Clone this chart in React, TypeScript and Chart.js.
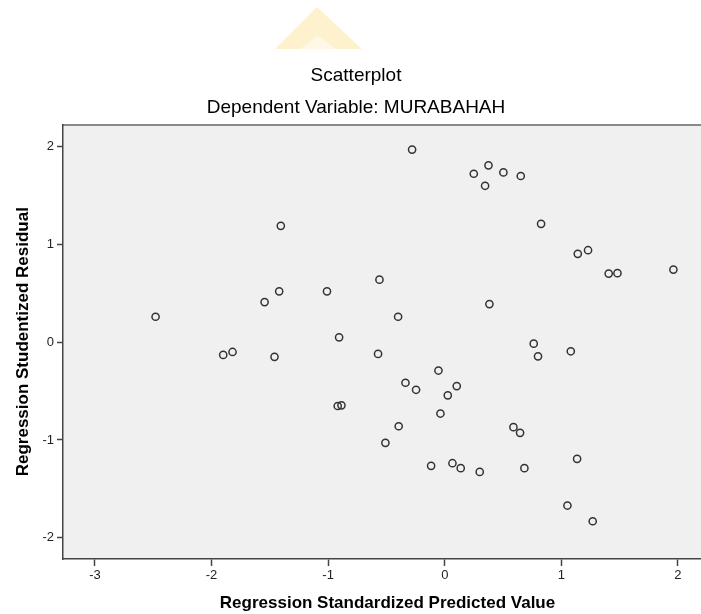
import React, { useEffect, useRef } from "react";
import { Chart, registerables } from "chart.js";

Chart.register(...registerables);

// Regression Standardized Predicted Value (x) and Studentized Residual (y)
const predicted = [
  -2.48, -1.9, -1.82, -1.46, -1.545, -1.42, -1.406, -1.01, -0.906, -0.918,
  -0.886, -0.56, -0.572, -0.4, -0.395, -0.337, -0.246, -0.28, -0.509, -0.117,
  -0.054, -0.037, 0.026, 0.103, 0.066, 0.137, 0.3, 0.249, 0.375, 0.503,
  0.652, 0.346, 0.383, 0.589, 0.646, 0.683, 0.763, 0.8, 0.826, 1.081,
  1.135, 1.052, 1.269, 1.141, 1.229, 1.406, 1.481, 1.961,
];
const residual = [
  0.26, -0.13, -0.1, -0.15, 0.41, 0.52, 1.19, 0.52, 0.05, -0.653,
  -0.646, 0.64, -0.12, 0.26, -0.86, -0.415, -0.487, 1.97, -1.03, -1.265,
  -0.29, -0.73, -0.544, -0.449, -1.238, -1.289, -1.327, 1.723, 1.809, 1.737,
  1.7, 1.6, 0.39, -0.869, -0.927, -1.289, -0.015, -0.145, 1.211, -0.093,
  -1.193, -1.671, -1.832, 0.904, 0.941, 0.702, 0.706, 0.743,
];
const xTickValues = [-3, -2, -1, 0, 1, 2];
const yTickValues = [-2, -1, 0, 1, 2];

const titleText = "Scatterplot";
const subtitleText = "Dependent Variable: MURABAHAH";
const xTitle = "Regression Standardized Predicted Value";
const yTitle = "Regression Studentized Residual";

const FONT = "'Liberation Sans', Arial, sans-serif";

const backdrop = {
  id: "backdrop",
  beforeDraw(chart: any) {
    const { ctx, chartArea } = chart;
    ctx.save();
    // faint watermark
    ctx.fillStyle = "#FEF2CE";
    ctx.beginPath();
    ctx.moveTo(317, 7);
    ctx.lineTo(362, 49);
    ctx.lineTo(275, 49);
    ctx.closePath();
    ctx.fill();
    ctx.fillStyle = "#FFF8E6";
    ctx.beginPath();
    ctx.moveTo(318, 36);
    ctx.lineTo(336, 49);
    ctx.lineTo(300, 49);
    ctx.closePath();
    ctx.fill();
    // plot background
    ctx.fillStyle = "#F0F0F0";
    ctx.fillRect(
      chartArea.left,
      chartArea.top,
      chartArea.right - chartArea.left,
      chartArea.bottom - chartArea.top
    );
    // top frame line
    ctx.strokeStyle = "#666666";
    ctx.lineWidth = 1.5;
    ctx.beginPath();
    ctx.moveTo(chartArea.left, chartArea.top + 0.5);
    ctx.lineTo(chartArea.right, chartArea.top + 0.5);
    ctx.stroke();
    ctx.restore();
  },
};

export default function App() {
  const ref = useRef<HTMLCanvasElement | null>(null);

  useEffect(() => {
    if (!ref.current) return;
    const points = predicted.map((x, i) => ({ x, y: residual[i] }));
    const chart = new Chart(ref.current, {
      type: "scatter",
      data: {
        datasets: [
          {
            data: points,
            pointStyle: "circle",
            pointRadius: 3.6,
            pointBorderWidth: 1.5,
            pointBackgroundColor: "rgba(0,0,0,0)",
            pointBorderColor: "#333333",
          },
        ],
      },
      options: {
        responsive: false,
        animation: false,
        devicePixelRatio: 1,
        layout: { padding: 0, autoPadding: false },
        plugins: {
          legend: { display: false },
          tooltip: { enabled: false },
          title: {
            display: true,
            text: titleText,
            color: "#000000",
            font: { family: FONT, size: 19, weight: "normal", lineHeight: 1.2 },
            padding: { top: 64.6, bottom: 0 },
          },
          subtitle: {
            display: true,
            text: subtitleText,
            color: "#000000",
            font: { family: FONT, size: 19, weight: "normal", lineHeight: 1.2 },
            padding: { top: 9.2, bottom: 5 },
          },
        },
        scales: {
          x: {
            type: "linear",
            min: -3.274,
            max: 2.292,
            afterBuildTicks: (s: any) => {
              s.ticks = xTickValues.map((v) => ({ value: v }));
            },
            afterFit: (s: any) => {
              s.height = 55;
            },
            ticks: {
              color: "#222222",
              font: { family: FONT, size: 13 },
              padding: 2,
            },
            grid: {
              display: true,
              drawOnChartArea: false,
              drawTicks: true,
              tickLength: 7,
              tickColor: "#444444",
              tickWidth: 1.5,
            },
            border: { display: true, color: "#444444", width: 1.5 },
            title: {
              display: true,
              text: xTitle,
              color: "#000000",
              font: { family: FONT, size: 17, weight: "bold" },
              padding: { top: 1, bottom: 0 },
            },
          },
          y: {
            type: "linear",
            min: -2.218,
            max: 2.228,
            afterBuildTicks: (s: any) => {
              s.ticks = yTickValues.map((v) => ({ value: v }));
            },
            afterFit: (s: any) => {
              s.width = 63;
            },
            ticks: {
              color: "#222222",
              font: { family: FONT, size: 13 },
              padding: 3,
            },
            grid: {
              display: true,
              drawOnChartArea: false,
              drawTicks: true,
              tickLength: 6,
              tickColor: "#444444",
              tickWidth: 1.5,
            },
            border: { display: true, color: "#444444", width: 1.5 },
            title: {
              display: true,
              text: yTitle,
              color: "#000000",
              font: { family: FONT, size: 17, weight: "bold" },
              padding: { top: 12.8, bottom: 0 },
            },
          },
        },
      },
      plugins: [backdrop],
    } as any);
    return () => chart.destroy();
  }, []);

  return (
    <div
      style={{
        position: "absolute",
        left: 0,
        top: 0,
        width: 701,
        height: 614,
        overflow: "hidden",
        background: "#ffffff",
      }}
    >
      <canvas ref={ref} width={712} height={614} style={{ display: "block" }} />
    </div>
  );
}
